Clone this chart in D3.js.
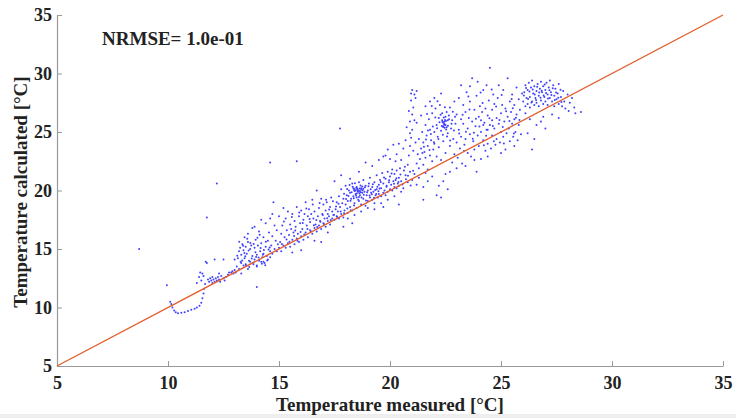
<!DOCTYPE html>
<html>
<head>
<meta charset="utf-8">
<script src="https://cdn.jsdelivr.net/npm/d3@7"></script>
<style>
  body { margin: 0; background: #fff; }
  #chart text { font-family: "Liberation Serif", "Times New Roman", serif; font-weight: bold; fill: #222; }
</style>
</head>
<body>
<div id="chart"></div>
<script>
var width = 736;
var height = 418;

var tickValues = [5, 10, 15, 20, 25, 30, 35];
var xTitle = "Temperature measured [°C]";
var yTitle = "Temperature calculated [°C]";
var scoreText = "NRMSE= 1.0e-01";
var idealLine = [[5, 5], [35, 35]];

// [measured, calculated], grouped by region
var outliers = [[8.7,15.0],[9.95,11.9],[10.1,10.5],[11.75,17.7],[12.2,20.6],[14.0,11.75],[14.6,22.4],[15.8,22.5],[17.75,25.3]];
var hook = [[10.15,10.3],[10.2,10.0],[10.28,9.75],[10.35,9.6],[10.45,9.5],[10.6,9.55],[10.75,9.6],[10.9,9.7],[11.05,9.8],[11.2,9.9],[11.3,10.0],[11.42,10.15],[11.5,10.4],[11.55,10.8],[11.6,11.2],[11.63,11.6],[11.67,12.0]];
var lowCluster = [[11.3,12.1],[11.4,12.6],[11.45,13.0],[11.5,12.3],[11.6,12.7],[11.7,13.9],[11.75,13.8],[11.8,12.4],[11.85,12.2],[11.9,12.5],[11.95,12.3],[12.0,12.6],[12.05,12.4],[12.1,12.2],[12.1,14.1],[12.15,12.5],[12.2,12.3],[12.25,12.6],[12.3,12.4],[12.35,12.2],[12.4,12.7],[12.5,14.1],[12.5,12.5],[12.55,12.3],[12.6,12.6],[12.7,12.8],[12.75,13.0],[12.85,13.0],[12.9,13.1],[12.95,12.9],[13.0,13.2],[13.05,13.0],[12.3,12.9],[11.55,12.9],[12.0,12.1]];
var band13 = [[13.1,13.5],[13.15,14.2],[13.2,14.8],[13.2,13.3],[13.25,15.1],[13.3,13.8],[13.3,14.5],[13.35,15.4],[13.4,13.6],[13.4,14.9],[13.45,14.2],[13.5,15.2],[13.5,13.7],[13.55,14.6],[13.6,15.6],[13.6,16.3],[13.65,14.0],[13.7,15.0],[13.7,13.9],[13.75,15.3],[13.8,14.4],[13.8,16.8],[13.85,13.7],[13.9,15.1],[13.9,14.1],[13.95,15.8],[14.0,14.5],[14.0,13.6],[14.05,15.3],[14.1,14.0],[14.1,16.5],[14.15,14.8],[14.2,13.9],[14.2,15.5],[14.25,14.3],[14.3,16.0],[14.3,14.6],[14.35,13.8],[14.4,15.2],[14.4,17.2],[14.45,14.4],[14.5,15.7],[14.5,14.1],[14.55,16.4],[14.6,14.8],[14.6,17.6],[14.65,15.3],[14.7,14.6],[14.7,16.1],[14.75,19.0],[14.8,15.0],[14.8,17.0],[14.85,15.7],[14.9,14.8],[14.9,16.6],[14.95,15.4],[15.0,17.8],[15.0,15.1],[13.3,12.9],[13.6,13.3],[14.0,13.5],[14.3,13.9],[14.6,14.3],[13.0,14.1],[13.45,16.0],[13.9,16.9],[14.2,17.5],[14.7,18.0],
  [13.12,14.43],[13.27,13.91],[13.38,15.27],[13.44,14.66],[13.52,13.58],[13.63,14.87],[13.71,15.52],[13.77,14.18],[13.83,13.82],[13.94,14.73],[14.03,15.96],[14.08,14.27],[14.17,15.08],[14.23,13.74],[14.32,14.91],[14.41,15.63],[14.47,14.02],[14.53,14.96],[13.21,15.63],[13.57,15.88],[13.86,15.42],[14.13,16.21],[14.38,13.61],[13.34,14.02],[13.48,14.39],[13.66,13.47],[13.97,14.31],[14.27,14.51],[14.58,15.12]];
var band15 = [[15.05,15.6],[15.1,16.3],[15.1,14.8],[15.15,17.0],[15.2,15.3],[15.25,16.0],[15.3,17.6],[15.3,15.1],[15.35,16.6],[15.4,15.5],[15.4,18.2],[15.45,16.2],[15.5,15.2],[15.5,17.1],[15.55,16.7],[15.6,15.8],[15.6,18.0],[15.65,16.4],[15.7,15.4],[15.7,17.4],[15.75,16.9],[15.8,15.9],[15.8,18.6],[15.85,16.3],[15.9,17.8],[15.9,15.6],[15.95,17.2],[16.0,16.1],[16.0,18.3],[16.05,16.7],[16.1,17.5],[16.1,15.8],[16.15,18.0],[16.2,16.4],[16.2,19.0],[16.25,17.0],[16.3,16.0],[16.3,17.8],[16.35,18.4],[16.4,16.6],[16.4,17.3],[16.45,18.0],[16.5,16.3],[16.5,19.2],[16.55,17.6],[16.6,16.8],[16.6,18.2],[16.65,17.1],[16.7,16.5],[16.7,20.0],[16.75,17.8],[16.8,17.0],[16.8,18.5],[16.85,17.4],[16.9,19.3],[16.9,16.7],[16.95,18.0],[17.0,17.2],[17.0,18.8],[17.05,17.6],[17.1,16.9],[17.1,18.3],[17.15,19.0],[17.2,17.4],[17.2,18.0],[17.25,17.8],[17.3,17.1],[17.3,18.6],[17.35,19.4],[17.4,17.6],[17.4,18.2],[17.45,17.9],[17.5,20.8],[17.5,17.5],[15.2,18.5],[16.0,14.9],[16.6,15.7],[17.2,16.4],[15.6,14.7],[16.9,15.6],
  [15.13,15.42],[15.34,15.81],[15.47,15.63],[15.68,16.12],[15.83,15.71],[15.97,16.45],[16.14,16.23],[16.28,16.71],[16.43,16.52],[16.57,17.03],[16.72,16.88],[16.87,17.32],[17.03,17.11],[17.17,17.63],[17.33,17.47],[17.48,17.92],[17.62,17.73],[17.78,18.21],[17.93,18.06],[18.08,18.47],[18.23,18.31],[18.38,18.72],
  [15.22,17.34],[15.58,17.73],[15.91,18.12],[16.23,18.47],[16.52,18.81],[16.83,18.93],[17.12,19.22],[17.43,19.08],[17.68,18.87],[15.73,16.58],[16.07,17.22],[16.38,17.56],[16.68,17.47],[16.97,17.91],[17.26,18.37],[17.57,18.63]];
var band18 = [[17.55,18.4],[17.6,17.8],[17.6,19.0],[17.65,18.2],[17.7,17.6],[17.7,19.5],[17.75,18.6],[17.8,18.0],[17.8,20.1],[17.85,18.9],[17.9,17.7],[17.9,19.3],[17.95,18.3],[18.0,18.8],[18.0,20.4],[18.05,19.6],[18.1,18.1],[18.1,19.1],[18.15,20.0],[18.2,18.6],[18.2,19.8],[18.25,19.3],[18.3,18.3],[18.3,20.6],[18.35,19.5],[18.4,18.9],[18.4,20.1],[18.45,19.7],[18.5,18.5],[18.5,19.4],[18.5,20.3],[18.55,19.9],[18.6,19.1],[18.6,20.7],[18.65,19.6],[18.7,18.8],[18.7,20.2],[18.75,19.8],[18.8,19.3],[18.8,20.9],[18.85,19.9],[18.9,18.7],[18.9,20.4],[18.95,19.6],[19.0,19.1],[19.0,20.0],[19.05,20.6],[19.1,19.4],[19.1,21.1],[19.15,19.8],[19.2,19.2],[19.2,20.3],[19.25,19.9],[19.3,18.9],[19.3,20.7],[19.35,19.6],[19.4,20.1],[19.4,21.3],[19.45,19.4],[19.5,20.5],[19.5,19.7],[19.55,20.9],[19.6,19.5],[19.6,20.2],[19.65,21.5],[19.7,19.8],[19.7,20.6],[19.75,20.0],[19.8,21.0],[19.8,19.6],[19.85,20.4],[19.9,21.6],[19.9,19.9],[19.95,20.7],[20.0,20.1],[20.0,21.2],[20.05,20.5],[20.1,21.8],[20.1,20.0],[20.15,20.8],[20.2,20.3],[20.2,21.4],[20.25,20.9],[20.3,20.2],[20.3,21.7],[20.35,20.6],[20.4,21.1],[20.4,20.4],[20.45,21.9],[20.5,20.8],[18.1,17.6],[18.4,17.9],[18.7,18.2],[19.0,18.5],[19.3,18.4],[19.6,18.9],[19.9,19.2],[20.2,19.5],[17.8,21.3],[18.2,21.0],[18.6,21.6],[19.2,22.1],[19.5,22.6],[19.8,23.0],[18.9,22.4],[17.9,16.9],[18.3,17.2],[19.7,18.6],[20.4,18.8],[18.55,20.05],[18.45,20.0],[18.65,19.95],[18.35,20.2],[18.5,19.75],[18.6,19.45],[18.75,20.35],[18.8,20.15],
  [17.93,19.72],[18.02,19.27],[18.07,20.13],[18.13,19.54],[18.18,20.47],[18.22,19.12],[18.27,19.86],[18.32,20.31],[18.37,19.33],[18.42,20.62],[18.47,19.58],[18.52,20.18],[18.57,19.22],[18.62,19.77],[18.67,20.43],[18.72,19.41],[18.77,20.02],[18.82,19.63],[18.87,20.27],[18.92,19.14],[18.97,19.84],[19.03,20.36],[19.08,19.57],[19.13,20.11],[19.18,19.68],[19.23,20.53],[19.28,19.39],[19.33,20.04],[19.38,19.71],[19.43,20.32],[19.48,19.93],[19.53,20.17],[18.41,19.96],[18.53,20.07],[18.63,20.17],[18.58,19.93],[18.48,20.23],[18.68,19.86],[18.38,20.04],[18.71,20.09],
  [19.58,20.73],[19.73,21.12],[19.84,20.31],[19.96,20.88],[20.07,21.46],[20.18,20.57],[20.29,21.04],[20.38,20.73],[20.47,21.36],[20.56,20.52],[20.63,21.72],[20.72,20.96],[20.81,21.27],[20.93,20.43],[21.04,21.68],[20.67,22.04]];
var band21 = [[20.8,22.2],[20.85,23.0],[20.9,23.8],[20.95,24.5],[21.0,25.2],[20.9,25.9],[21.0,26.5],[21.05,27.1],[20.95,27.7],[21.1,28.2],[21.0,28.6],[21.15,27.9],[20.85,26.8],[21.1,26.0],[20.9,24.9],[21.05,23.4],[21.15,24.1],[20.75,25.4],[21.2,28.5],[20.95,28.3],
  [19.7,22.9],[19.9,23.5],[20.0,22.7],[20.15,23.9],[20.3,23.1],[20.4,24.0],[20.5,22.6],[20.6,23.6],[20.7,24.3],[20.25,22.5],
  [21.2,22.3],[21.25,23.1],[21.3,21.9],[21.3,24.4],[21.35,22.7],[21.4,23.6],[21.45,25.0],[21.5,22.2],[21.5,24.1],[21.55,23.3],[21.6,25.6],[21.6,22.8],[21.65,24.7],[21.7,23.8],[21.7,21.8],[21.75,26.1],[21.8,23.0],[21.8,25.2],[21.85,24.3],[21.9,22.5],[21.9,26.6],[21.95,23.5],[22.0,25.0],[22.0,24.0],[22.05,27.0],[22.1,22.9],[22.1,25.6],[22.15,24.6],[22.2,26.2],[22.2,23.7],[22.25,27.3],[22.3,25.1],[22.3,22.6],[22.35,26.6],[22.4,25.5],[22.4,24.2],[22.45,25.9],[22.5,26.3],[22.5,23.2],[22.45,25.7],[22.55,25.4],[22.6,26.0],[22.4,25.8],[22.5,25.6],[22.35,26.0],[22.55,26.7],[21.4,26.4],[21.6,27.2],[21.8,27.6],[22.0,27.9],[22.3,28.3],[21.2,25.8],
  [20.6,20.2],[20.7,21.3],[20.8,20.7],[20.9,21.6],[21.0,20.9],[21.1,21.4],[21.2,20.5],[21.3,21.1],[21.5,20.3],[21.6,21.5],[21.7,20.8],[21.9,21.2],[22.1,19.6],[22.2,20.4],[22.3,19.4],[22.4,20.8],[22.5,21.4],[22.6,20.1],[21.5,19.2],[20.5,19.9],
  [21.53,23.74],[21.62,24.36],[21.71,25.13],[21.78,23.47],[21.84,24.82],[21.93,25.47],[21.98,24.13],[22.04,26.23],[22.12,25.32],[22.18,24.41],[22.23,25.83],[22.28,26.47],[22.33,25.52],[22.38,24.77],[22.42,26.23],[22.46,25.36],[22.52,25.93],[22.57,24.62],[22.61,25.54],[22.66,26.08],[22.71,24.27],[22.77,25.71],[22.83,26.73],[22.88,25.12],[22.93,26.31],[22.44,25.62],[22.48,26.03],[22.39,25.42],[22.53,25.22],[22.36,25.87],[21.67,26.53],[21.88,27.23],[22.14,27.63],[22.47,27.12],[21.46,23.21]];
var band24 = [[22.6,24.9],[22.65,26.4],[22.7,23.8],[22.7,27.1],[22.75,25.3],[22.8,22.4],[22.8,26.0],[22.85,24.4],[22.9,27.6],[22.9,23.1],[22.95,25.7],[23.0,24.1],[23.0,26.5],[23.05,22.8],[23.1,25.2],[23.1,27.9],[23.15,23.6],[23.2,26.1],[23.2,24.6],[23.25,22.3],[23.3,25.7],[23.3,27.3],[23.35,23.9],[23.4,26.7],[23.4,24.4],[23.45,28.4],[23.5,25.3],[23.5,23.2],[23.55,26.2],[23.6,24.8],[23.6,27.6],[23.65,22.9],[23.7,25.9],[23.7,29.6],[23.75,24.2],[23.8,26.9],[23.8,23.5],[23.85,25.5],[23.9,21.6],[23.9,28.1],[23.95,24.7],[24.0,26.3],[24.0,23.8],[24.05,27.2],[24.1,25.0],[24.1,22.7],[24.15,26.7],[24.2,24.3],[24.2,28.6],[24.25,25.8],[24.3,23.4],[24.3,27.0],[24.35,25.2],[24.4,26.4],[24.4,24.0],[24.45,27.7],[24.5,25.6],[24.5,30.5],[24.55,23.6],[24.6,26.9],[24.6,24.7],[24.65,28.2],[24.7,25.3],[24.7,27.4],[24.75,23.9],[24.8,26.2],[24.8,24.4],[24.85,27.9],[24.9,25.7],[24.9,29.0],[24.95,24.1],[25.0,26.6],[25.0,25.0],[25.05,27.3],[25.1,24.6],[25.1,28.6],[25.15,25.9],[25.2,23.5],[25.2,27.0],[25.25,24.9],[25.3,29.6],[25.3,26.3],[25.35,25.3],[25.4,27.6],[25.4,24.2],[25.45,26.7],[25.5,25.7],[25.5,28.2],[25.55,24.6],[25.6,26.1],[25.6,27.3],[25.65,25.0],[25.7,28.8],[25.7,26.5],[25.75,24.3],[25.8,27.8],[25.8,25.6],[25.85,26.9],[25.9,24.8],[25.95,28.3],[22.7,21.6],[23.0,21.9],[23.4,22.1],[23.8,22.6],[24.4,22.9],[25.0,23.2],[25.6,23.8],[23.2,29.0],[23.95,29.3],[24.35,29.0],[24.6,26.0],[24.2,25.6],[24.4,25.2],[24.1,26.0],[23.6,28.9],
  [23.12,24.87],[23.27,26.48],[23.42,25.03],[23.58,26.92],[23.73,24.43],[23.87,26.13],[24.03,25.47],[24.17,27.48],[24.33,24.68],[24.48,26.18],[24.63,25.52],[24.78,27.17],[24.93,26.03],[25.08,25.43],[25.23,26.77],[25.38,25.93],[25.53,27.03],[25.67,26.22],[25.83,26.03],[23.33,23.37],[23.78,24.93],[24.23,23.87],[24.68,24.22],[25.13,24.02],[25.58,24.88],[23.53,28.03],[24.08,28.37],[24.58,28.63],[25.03,28.17],[25.48,27.83]];
var band27 = [[26.0,27.6],[26.05,28.4],[26.1,27.2],[26.1,29.0],[26.15,27.9],[26.2,28.6],[26.2,27.4],[26.25,29.2],[26.3,28.0],[26.3,27.1],[26.35,28.8],[26.4,27.6],[26.4,29.4],[26.45,28.3],[26.5,27.3],[26.5,28.9],[26.55,27.9],[26.6,28.5],[26.6,27.5],[26.65,29.1],[26.7,28.1],[26.7,27.2],[26.75,28.7],[26.8,27.7],[26.8,29.3],[26.85,28.4],[26.9,27.4],[26.9,28.9],[26.95,28.0],[27.0,28.6],[27.0,27.6],[27.05,29.2],[27.1,28.2],[27.1,27.3],[27.15,28.8],[27.2,27.9],[27.2,29.4],[27.25,28.4],[27.3,27.6],[27.35,29.0],[27.4,28.1],[27.4,27.2],[27.45,28.7],[27.5,27.8],[27.55,28.3],[27.6,27.4],[27.6,29.1],[27.7,28.0],[27.75,27.2],[27.8,28.5],[27.85,27.6],[27.9,27.0],[28.0,28.2],[28.05,26.8],[28.1,27.5],[28.2,27.9],[28.3,27.1],[28.35,26.6],[28.6,26.7],[26.9,26.3],[27.3,26.5],[27.6,26.2],[26.6,25.6],[26.4,23.5],[26.2,24.9],[26.5,24.4],[26.8,25.9],[26.3,26.1],[27.0,25.3],[26.1,26.6],
  [26.03,28.13],[26.13,28.77],[26.22,27.83],[26.28,28.47],[26.37,27.53],[26.43,28.63],[26.52,28.21],[26.58,27.73],[26.63,28.87],[26.72,28.37],[26.78,27.93],[26.83,28.53],[26.92,28.13],[26.97,29.07],[27.03,28.34],[27.12,27.87],[27.18,28.57],[27.27,28.17],[27.33,28.73],[27.42,27.73],[27.48,28.37],[27.58,27.93],[27.68,28.62],[27.72,27.57]];

var points = [].concat(outliers, hook, lowCluster, band13, band15, band18, band21, band24, band27);

var svg = d3.select("#chart").append("svg")
    .attr("width", width)
    .attr("height", height);

svg.append("rect").attr("x", 0).attr("y", 414).attr("width", width).attr("height", 4).attr("fill", "#eeeeee");

var x = d3.scaleLinear().domain([5, 35]).range([57, 723]);
var y = d3.scaleLinear().domain([5, 35]).range([366, 15]);

var xAxis = svg.append("g")
    .attr("transform", "translate(0,366)")
    .call(d3.axisBottom(x).tickValues(tickValues).tickSize(-5).tickSizeOuter(0).tickPadding(10));
var yAxis = svg.append("g")
    .attr("transform", "translate(57,0)")
    .call(d3.axisLeft(y).tickValues(tickValues).tickSize(-5).tickSizeOuter(0).tickPadding(5));

[xAxis, yAxis].forEach(function (g) {
    g.select(".domain").attr("stroke", "#999").attr("stroke-width", 1.2);
    g.selectAll(".tick line").attr("stroke", "#999");
    g.selectAll(".tick text").style("font-size", "18px");
});

svg.append("g").selectAll("circle")
    .data(points)
    .enter().append("circle")
    .attr("cx", d => x(d[0]))
    .attr("cy", d => y(d[1]))
    .attr("r", 1.0)
    .attr("fill", "#4040ff");

svg.append("path")
    .attr("d", d3.line().x(d => x(d[0])).y(d => y(d[1]))(idealLine))
    .attr("fill", "none")
    .attr("stroke", "#e2602f")
    .attr("stroke-width", 1.4);

svg.append("text")
    .attr("x", 390).attr("y", 411)
    .attr("text-anchor", "middle")
    .style("font-size", "19px")
    .text(xTitle);

svg.append("text")
    .attr("transform", "translate(27,192) rotate(-90)")
    .attr("text-anchor", "middle")
    .style("font-size", "19px")
    .text(yTitle);

svg.append("text")
    .attr("x", 102).attr("y", 45)
    .style("font-size", "19px")
    .text(scoreText);
</script>
</body>
</html>
